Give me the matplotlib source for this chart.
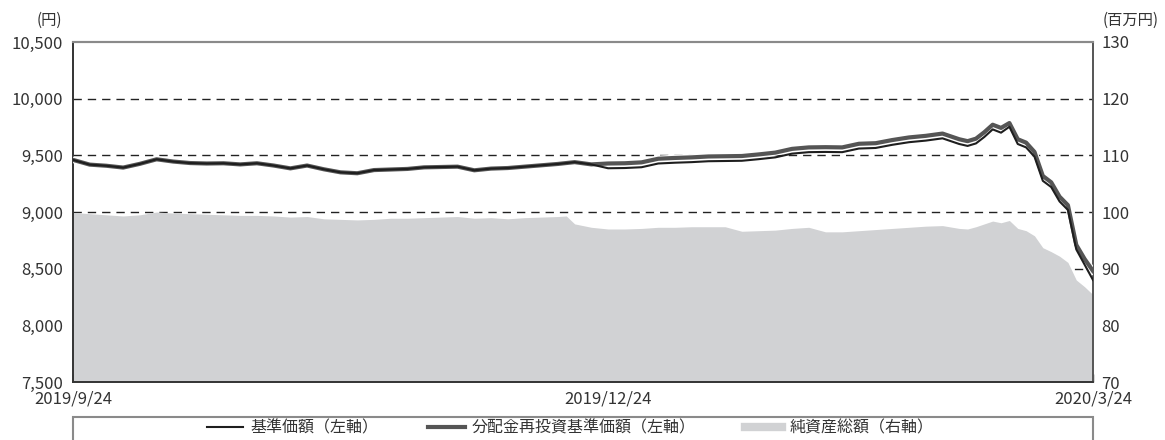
import numpy as np
import matplotlib
matplotlib.use("Agg")
import matplotlib.pyplot as plt
import matplotlib.patheffects as pe
from matplotlib.lines import Line2D
from matplotlib.patches import Rectangle

plt.rcParams['font.family'] = ['Noto Sans CJK JP', 'DejaVu Sans']

# Índice de días hábiles (0 = 2019/9/24, 122 = 2020/3/24)
diasHabiles = [0, 2, 4, 6, 8, 10, 12, 14, 16, 18, 20, 22, 24, 26, 28, 30, 32, 34, 36, 38,
               40, 42, 44, 46, 48, 50, 52, 54, 56, 58, 59, 60, 62, 64, 66, 68, 70, 72, 74, 76,
               78, 80, 82, 84, 86, 88, 90, 92, 94, 96, 98, 100, 102, 104, 106, 107, 108, 109,
               110, 111, 112, 113, 114, 115, 116, 117, 118, 119, 120, 121, 122]

# 基準価額 (円)
precioBase = [9460, 9418, 9408, 9392, 9425, 9465, 9445, 9432, 9428, 9430, 9420, 9430, 9410,
              9385, 9410, 9377, 9350, 9342, 9370, 9375, 9380, 9394, 9397, 9400, 9368, 9383,
              9388, 9400, 9412, 9424, 9432, 9440, 9420, 9386, 9388, 9395, 9428, 9435, 9440,
              9448, 9450, 9452, 9466, 9482, 9515, 9528, 9530, 9528, 9560, 9565, 9593, 9616,
              9630, 9650, 9600, 9583, 9605, 9662, 9729, 9700, 9752, 9600, 9570, 9488, 9275,
              9220, 9093, 9018, 8670, 8535, 8400]

# 分配金再投資基準価額 (円)
precioReinversion = [9460, 9418, 9408, 9392, 9425, 9465, 9445, 9432, 9428, 9430, 9420, 9430, 9410,
                     9385, 9410, 9377, 9350, 9342, 9370, 9375, 9380, 9394, 9397, 9400, 9368, 9383,
                     9388, 9400, 9412, 9424, 9432, 9440, 9420, 9428, 9430, 9438, 9470, 9477, 9482,
                     9490, 9492, 9494, 9508, 9524, 9557, 9570, 9572, 9570, 9602, 9607, 9635, 9658,
                     9672, 9692, 9642, 9625, 9647, 9704, 9770, 9742, 9785, 9642, 9612, 9530, 9318,
                     9262, 9135, 9060, 8710, 8585, 8480]

# 純資産総額 (百万円)
activoNeto = [99.9, 99.7, 99.5, 99.3, 99.5, 100.0, 99.8, 99.7, 99.6, 99.5, 99.4, 99.4, 99.3,
              99.1, 99.2, 98.8, 98.7, 98.6, 98.7, 98.9, 98.9, 99.0, 99.1, 99.2, 98.9, 99.0,
              98.8, 99.0, 99.1, 99.2, 99.3, 97.9, 97.3, 97.0, 97.0, 97.1, 97.3, 97.3, 97.4,
              97.4, 97.4, 96.6, 96.7, 96.8, 97.1, 97.3, 96.5, 96.5, 96.7, 96.9, 97.1, 97.3,
              97.5, 97.6, 97.1, 97.0, 97.4, 97.9, 98.4, 98.1, 98.5, 97.1, 96.7, 95.8, 93.7,
              93.0, 92.2, 91.1, 88.0, 86.8, 85.4]

ticksIzq = [7500, 8000, 8500, 9000, 9500, 10000, 10500]
ticksDer = [70, 80, 90, 100, 110, 120, 130]
ticksX = [0, 64, 122]
etiquetasX = ['2019/9/24', '2019/12/24', '2020/3/24']
nombresSeries = ['基準価額（左軸）', '分配金再投資基準価額（左軸）', '純資産総額（右軸）']

colorTexto = '#333333'
colorArea = '#d1d2d4'

fig = plt.figure(figsize=(11.65, 4.4), dpi=100)
axDer = fig.add_axes([73 / 1165, 1 - 382 / 440, 1020 / 1165, 340 / 440])
ax = axDer.twinx()
ax.yaxis.tick_left()
axDer.yaxis.tick_right()

# Área de activos netos (eje derecho) con la rejilla por debajo
axDer.fill_between(diasHabiles, activoNeto, 70, color=colorArea, lw=0, zorder=2)
axDer.set_ylim(70, 130)
axDer.set_yticks(ticksDer)
axDer.set_yticklabels([str(t) for t in ticksDer])
for t in ticksDer[1:-1]:
    axDer.axhline(t, color='#222222', lw=1.0, ls=(0, (6, 4.3)), zorder=1)

# Líneas de precio (eje izquierdo)
ax.plot(diasHabiles, precioReinversion, color='#555555', lw=3.0, solid_joinstyle='round',
        path_effects=[pe.Stroke(linewidth=4.6, foreground='white'), pe.Normal()], zorder=3)
ax.plot(diasHabiles, precioBase, color='#1e1e1e', lw=1.5, solid_joinstyle='round', zorder=4)
ax.set_ylim(7500, 10500)
ax.set_yticks(ticksIzq)
ax.set_yticklabels([f'{t:,}' for t in ticksIzq])
ax.set_xlim(0, 122)

ax.set_zorder(axDer.get_zorder() + 1)
ax.patch.set_visible(False)

axDer.set_xticks(ticksX)
axDer.set_xticklabels(etiquetasX)
ax.set_xticks(ticksX)
ax.tick_params(axis='x', bottom=False, labelbottom=False)
axDer.tick_params(axis='x', direction='in', length=6, width=1, color='#333333',
                  labelsize=12, labelcolor=colorTexto, pad=6)
axDer.tick_params(axis='y', length=0, labelsize=12, labelcolor=colorTexto, pad=6)
ax.tick_params(axis='y', length=0, labelsize=12, labelcolor=colorTexto, pad=7)

for a in (ax, axDer):
    a.spines['top'].set_color('#8a8a8a')
    a.spines['top'].set_linewidth(1.5)
    a.spines['left'].set_color('#333333')
    a.spines['right'].set_color('#555555')
    a.spines['bottom'].set_color('#333333')
    for s in ('left', 'right', 'bottom'):
        a.spines[s].set_linewidth(1.2)

# Unidades
fig.text(49 / 1165, 1 - 20 / 440, '(円)', ha='center', va='center', fontsize=11, color=colorTexto)
fig.text(1131 / 1165, 1 - 20 / 440, '(百万円)', ha='center', va='center', fontsize=11, color=colorTexto)

# Leyenda dentro de un recuadro
caja = Rectangle((73 / 1165, -0.05), 1020 / 1165, 1 - 417 / 440 + 0.05, transform=fig.transFigure,
                 fill=False, edgecolor='#8a8a8a', lw=1.5)
fig.add_artist(caja)
manejadores = [Line2D([], [], color='#1e1e1e', lw=1.5),
               Line2D([], [], color='#555555', lw=3.0),
               Line2D([], [], color=colorArea, lw=6)]
fig.legend(manejadores, nombresSeries, loc='center', bbox_to_anchor=(570 / 1165, 1 - 428 / 440),
           ncol=3, frameon=False, fontsize=11.5, handlelength=2.3, handletextpad=0.45,
           columnspacing=3.1, labelcolor=colorTexto)

fig.savefig('out.png', dpi=100)
